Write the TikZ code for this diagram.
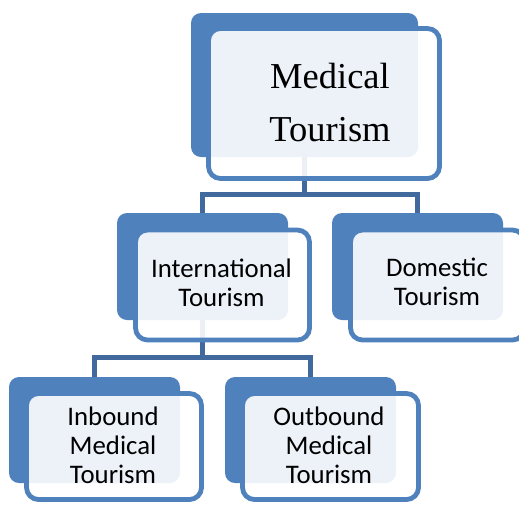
\documentclass[tikz,border=0pt]{standalone}
\usepackage{fontspec}
\setmainfont{Liberation Serif}
\newfontfamily\carl{Carlito}
\definecolor{sablue}{HTML}{4F81BD}
\definecolor{connblue}{RGB}{65,105,158}
\begin{document}
\begin{tikzpicture}[x=1pt,y=-1pt,
  backbox/.style={rectangle,rounded corners=10pt,fill=sablue,draw=none,inner sep=0pt,outer sep=0pt},
  frontbox/.style={rectangle,rounded corners=12pt,fill=white,fill opacity=0.9,draw=sablue,draw opacity=1,line width=4.8pt,inner sep=0pt,outer sep=0pt},
  conn/.style={draw=connblue,line width=5pt,line join=miter},
  serifl/.style={inner sep=0pt,align=center,font=\fontsize{36.5}{53.4}\selectfont},
  sansl/.style={inner sep=0pt,align=center,font=\carl\fontsize{26.8}{29}\selectfont}]
\useasboundingbox (0,0) rectangle (519,504);
% back boxes
\node[backbox,minimum width=227pt,minimum height=144pt] (topB) at (304.5,85) {};
\node[backbox,minimum width=171pt,minimum height=107pt] (intB) at (202.5,266.5) {};
\node[backbox,minimum width=171pt,minimum height=107pt] (domB) at (417.5,266.5) {};
\node[backbox,minimum width=171pt,minimum height=106pt] (inB) at (94.5,430) {};
\node[backbox,minimum width=171pt,minimum height=106pt] (outB) at (310.5,430) {};
% connectors
\draw[conn] (topB.south) -- ++(0,37.5) -| (intB.north);
\draw[conn] (topB.south) -- ++(0,37.5) -| (domB.north);
\draw[conn] (intB.south) -- ++(0,37) -| (inB.north);
\draw[conn] (intB.south) -- ++(0,37) -| (outB.north);
% front boxes
\node[frontbox,minimum width=231pt,minimum height=150pt] (topF) at (324,103.5) {};
\node[frontbox,minimum width=174pt,minimum height=110pt] (intF) at (222.5,285) {};
\node[frontbox,minimum width=174pt,minimum height=110pt] (domF) at (437.5,285) {};
\node[frontbox,minimum width=175pt,minimum height=106pt] (inF) at (114,446.5) {};
\node[frontbox,minimum width=176pt,minimum height=106pt] (outF) at (330.5,446.5) {};
% texts
\node[serifl] (tTop) at (330,102.7) {Medical\\Tourism};
\node[sansl] (tInt) at (221.5,282.3) {International\\Tourism};
\node[sansl] (tDom) at (437,282.3) {Domestic\\Tourism};
\node[sansl] (tIn) at (113,445.6) {Inbound\\Medical\\Tourism};
\node[sansl] (tOut) at (329,445.6) {Outbound\\Medical\\Tourism};
\end{tikzpicture}
\end{document}
